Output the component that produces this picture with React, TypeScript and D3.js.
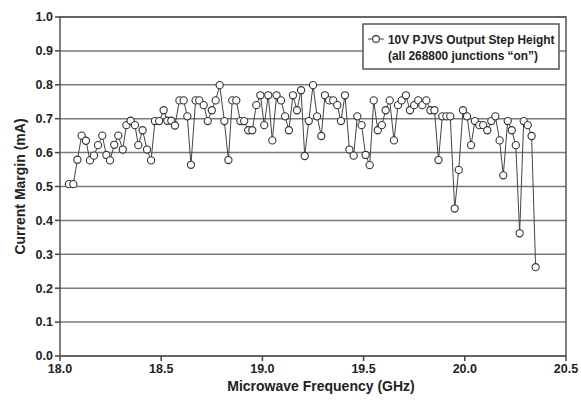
import React from 'react';
import * as d3 from 'd3';

const width = 581;
const height = 403;

// readings, frequency in GHz, current margin in mA
const frequencies = [
  18.044, 18.066, 18.086, 18.107, 18.128, 18.148, 18.168, 18.188, 18.209, 18.229,
  18.247, 18.268, 18.288, 18.310, 18.328, 18.349, 18.370, 18.387, 18.408, 18.430,
  18.450, 18.469, 18.490, 18.512, 18.530, 18.550, 18.568, 18.590, 18.611, 18.629,
  18.647, 18.670, 18.688, 18.710, 18.730, 18.750, 18.769, 18.789, 18.812, 18.832,
  18.851, 18.871, 18.891, 18.910, 18.930, 18.950, 18.970, 18.990, 19.009, 19.029,
  19.049, 19.070, 19.092, 19.112, 19.131, 19.151, 19.171, 19.191, 19.209, 19.229,
  19.250, 19.270, 19.291, 19.309, 19.330, 19.350, 19.370, 19.388, 19.408, 19.430,
  19.451, 19.469, 19.490, 19.510, 19.530, 19.550, 19.570, 19.590, 19.609, 19.629,
  19.650, 19.670, 19.688, 19.709, 19.729, 19.750, 19.770, 19.790, 19.810, 19.830,
  19.850, 19.870, 19.889, 19.909, 19.928, 19.950, 19.970, 19.991, 20.011, 20.031,
  20.050, 20.072, 20.091, 20.111, 20.131, 20.151, 20.172, 20.190, 20.212, 20.232,
  20.252, 20.271, 20.291, 20.311, 20.330, 20.350,
];

const margins = [
  0.507, 0.507, 0.579, 0.650, 0.635, 0.577, 0.591, 0.622, 0.650, 0.593,
  0.577, 0.623, 0.650, 0.609, 0.681, 0.694, 0.681, 0.622, 0.666, 0.609,
  0.577, 0.693, 0.693, 0.725, 0.694, 0.694, 0.680, 0.754, 0.754, 0.707,
  0.564, 0.754, 0.754, 0.740, 0.693, 0.725, 0.754, 0.799, 0.693, 0.578,
  0.754, 0.754, 0.693, 0.693, 0.666, 0.666, 0.740, 0.769, 0.681, 0.769,
  0.636, 0.769, 0.754, 0.707, 0.666, 0.769, 0.725, 0.784, 0.590, 0.693,
  0.799, 0.707, 0.649, 0.769, 0.754, 0.754, 0.740, 0.693, 0.769, 0.609,
  0.591, 0.707, 0.681, 0.593, 0.563, 0.754, 0.666, 0.681, 0.725, 0.754,
  0.636, 0.740, 0.754, 0.769, 0.725, 0.740, 0.754, 0.740, 0.754, 0.725,
  0.725, 0.578, 0.707, 0.707, 0.707, 0.435, 0.549, 0.725, 0.707, 0.622,
  0.693, 0.681, 0.681, 0.666, 0.693, 0.707, 0.636, 0.533, 0.693, 0.666,
  0.622, 0.362, 0.693, 0.681, 0.649, 0.262,
];

const xTicks = [18.0, 18.5, 19.0, 19.5, 20.0, 20.5];
const yTicks = [0, 0.1, 0.2, 0.3, 0.4, 0.5, 0.6, 0.7, 0.8, 0.9, 1.0];

const legendLines = ['10V PJVS Output Step Height', '(all 268800 junctions \u201con\u201d)'];

const font = '"Liberation Sans", Arial, sans-serif';

export default function App() {
  const left = 60, right = 566, top = 17, bottom = 356;

  const x = d3.scaleLinear().domain([18, 20.5]).range([left, right]);
  const y = d3.scaleLinear().domain([0, 1]).range([bottom, top]);

  const points = frequencies.map((f, i) => ({ f, v: margins[i] }));

  const line = d3.line<{ f: number; v: number }>()
    .x(d => x(d.f))
    .y(d => y(d.v));

  return (
    <svg width={width} height={height}
      style={{ position: 'absolute', left: 0, top: 0, background: '#fff' }}
      fontFamily={font} fontWeight="bold">
      {/* gridlines */}
      {yTicks.map(t => (
        <line key={'g' + t} x1={left} x2={right} y1={y(t)} y2={y(t)}
          stroke="#7a7a7a" strokeWidth={1.5} />
      ))}
      {/* plot frame */}
      <rect x={left} y={top} width={right - left} height={bottom - top}
        fill="none" stroke="#555" strokeWidth={1.5} />

      {/* y axis ticks + labels */}
      {yTicks.map(t => (
        <g key={'y' + t}>
          <line x1={left - 5} x2={left} y1={y(t)} y2={y(t)} stroke="#444" strokeWidth={1.5} />
          <text x={left - 7} y={y(t)} dy="0.35em" textAnchor="end" fontSize={12.5} fill="#222">
            {d3.format('.1f')(t)}
          </text>
        </g>
      ))}
      {/* x axis ticks + labels */}
      {xTicks.map(t => (
        <g key={'x' + t}>
          <line x1={x(t)} x2={x(t)} y1={bottom} y2={bottom + 5} stroke="#444" strokeWidth={1.5} />
          <text x={x(t)} y={bottom + 17} textAnchor="middle" fontSize={12.5} fill="#222">
            {d3.format('.1f')(t)}
          </text>
        </g>
      ))}

      <text x={(left + right) / 2 + 8} y={391} textAnchor="middle" fontSize={14} fill="#222">
        Microwave Frequency (GHz)
      </text>
      <text transform={`translate(25,${(top + bottom) / 2}) rotate(-90)`} textAnchor="middle"
        fontSize={14} fill="#222">
        Current Margin (mA)
      </text>

      {/* series */}
      <path d={line(points) ?? ''} fill="none" stroke="#444" strokeWidth={1} />
      {points.map((d, i) => (
        <circle key={i} cx={x(d.f)} cy={y(d.v)} r={3.6}
          fill="#fff" stroke="#333" strokeWidth={1.1} />
      ))}

      {/* legend */}
      <rect x={363} y={24} width={196} height={45} fill="#fff" stroke="#555" strokeWidth={1.5} />
      <line x1={368} x2={384} y1={39} y2={39} stroke="#444" strokeWidth={1} />
      <circle cx={376} cy={39} r={3.4} fill="#fff" stroke="#333" strokeWidth={1.1} />
      <text x={388} y={43.5} fontSize={11.9} fill="#222">{legendLines[0]}</text>
      <text x={463} y={60} textAnchor="middle" fontSize={11.9} fill="#222">{legendLines[1]}</text>
    </svg>
  );
}
